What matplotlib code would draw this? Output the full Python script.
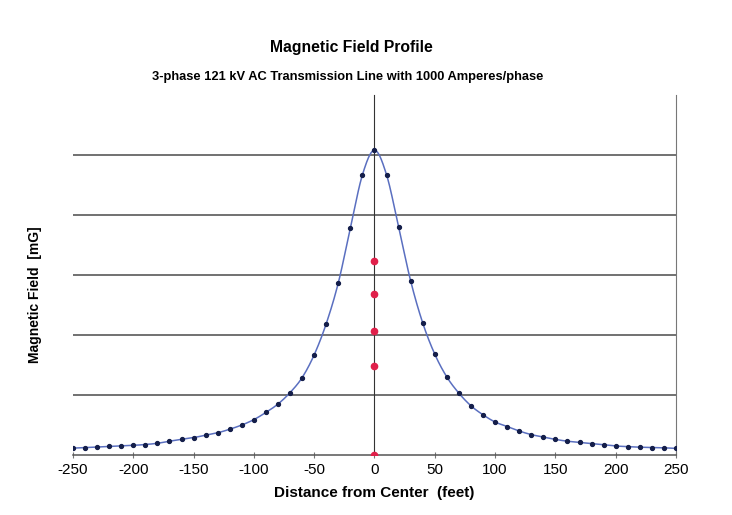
import numpy as np
import matplotlib.pyplot as plt

plt.rcParams['font.family'] = ['Liberation Sans', 'DejaVu Sans']

# distance from centre (feet) and field values (grid units)
distance = list(range(-250, 251, 10))
field = [0.115, 0.124, 0.133, 0.142, 0.15, 0.16, 0.175, 0.195, 0.23, 0.26,
         0.29, 0.33, 0.37, 0.43, 0.50, 0.59, 0.71, 0.85, 1.04,
         1.29, 1.67, 2.19, 2.87, 3.78, 4.67, 5.08, 4.67, 3.80, 2.90, 2.20, 1.68, 1.30,
         1.03, 0.82, 0.67, 0.55, 0.475, 0.40, 0.34, 0.30, 0.26, 0.23,
         0.21, 0.19, 0.17, 0.15, 0.14, 0.13, 0.125, 0.12, 0.11]

# red markers on the centre line
red_x = [0, 0, 0, 0, 0]
red_y = [0, 1.48, 2.07, 2.68, 3.23]

xticks = [-250, -200, -150, -100, -50, 0, 50, 100, 150, 200, 250]

fig = plt.figure(figsize=(7.32, 5.15), dpi=100)
ax = fig.add_axes([0.0997, 0.1165, 0.8238, 0.699])

# smoothed line through the points (Excel style)
xs = np.array(distance, dtype=float)
ys = np.array(field)
fine = np.linspace(xs[0], xs[-1], 1001)

def smooth(xp, yp, xq):
    # Catmull-Rom spline
    out = np.empty_like(xq)
    n = len(xp)
    for k, xv in enumerate(xq):
        i = min(max(np.searchsorted(xp, xv) - 1, 0), n - 2)
        t = (xv - xp[i]) / (xp[i + 1] - xp[i])
        p0 = yp[max(i - 1, 0)]
        p1 = yp[i]
        p2 = yp[i + 1]
        p3 = yp[min(i + 2, n - 1)]
        out[k] = 0.5 * ((2 * p1) + (-p0 + p2) * t
                        + (2 * p0 - 5 * p1 + 4 * p2 - p3) * t ** 2
                        + (-p0 + 3 * p1 - 3 * p2 + p3) * t ** 3)
    return out

for g in [1, 2, 3, 4, 5]:
    ax.axhline(g, color='#4a4a4a', lw=1.1, zorder=1)

ax.plot(fine, smooth(xs, ys, fine), color='#5a6fc0', lw=1.1, zorder=3)
ax.plot(distance, field, ls='none', marker='o', ms=2.8, color='#141e4a', zorder=4)
ax.plot(red_x, red_y, ls='none', marker='o', ms=4.5, color='#e0204a', zorder=5)

ax.set_xlim(-250, 250)
ax.set_ylim(0, 6)
ax.set_yticks([])
ax.set_xticks(xticks)
ax.set_xticklabels([str(t) for t in xticks], fontsize=11)
ax.tick_params(axis='x', direction='inout', length=4, color='#777777', pad=3.5)

ax.spines['top'].set_visible(False)
ax.spines['left'].set_position(('data', 0))
ax.spines['left'].set_color('#333333')
ax.spines['right'].set_color('#777777')
ax.spines['bottom'].set_color('#555555')
ax.spines['bottom'].set_linewidth(1.1)

ax.set_xlabel('Distance from Center  (feet)', fontsize=11, fontweight='bold', labelpad=7)
fig.text(0.048, 0.427, 'Magnetic Field  [mG]', rotation=90, ha='center', va='center',
         fontsize=10, fontweight='bold')

fig.text(0.48, 0.908, 'Magnetic Field Profile', ha='center', va='center',
         fontsize=11.3, fontweight='bold')
fig.text(0.475, 0.851, '3-phase 121 kV AC Transmission Line with 1000 Amperes/phase',
         ha='center', va='center', fontsize=9.3, fontweight='bold')

fig.savefig('out.png', dpi=100)
